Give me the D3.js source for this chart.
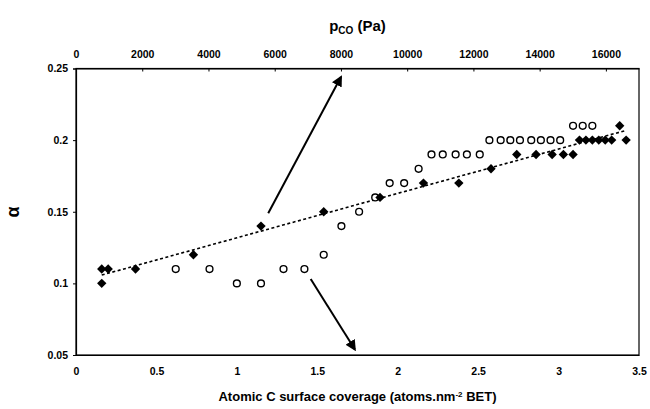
<!DOCTYPE html>
<html>
<head>
<meta charset="utf-8">
<script src="https://cdn.jsdelivr.net/npm/d3@7"></script>
<style>
  body { margin: 0; background: #fff; }
  svg text { font-family: "Liberation Sans", Arial, sans-serif; font-weight: bold; fill: #000; }
</style>
</head>
<body>
<div id="vis"></div>
<script>
// filled diamonds (coverage, alpha)
var diamondCov   = [0.16, 0.16, 0.20, 0.37, 0.73, 1.15, 1.54, 1.89, 2.16, 2.38, 2.58, 2.74, 2.86, 2.96, 3.03, 3.09, 3.13, 3.17, 3.21, 3.25, 3.29, 3.33, 3.38, 3.42];
var diamondAlpha = [0.10, 0.11, 0.11, 0.11, 0.12, 0.14, 0.15, 0.16, 0.17, 0.17, 0.18, 0.19, 0.19, 0.19, 0.19, 0.19, 0.20, 0.20, 0.20, 0.20, 0.20, 0.20, 0.21, 0.20];

// open circles (plotted against the same coverage axis)
var circleCov   = [0.62, 0.83, 1.00, 1.15, 1.29, 1.42, 1.54, 1.65, 1.76, 1.86, 1.95, 2.04, 2.13, 2.21, 2.28, 2.36, 2.43, 2.51, 2.57, 2.64, 2.70, 2.76, 2.83, 2.89, 2.95, 3.01, 3.09, 3.15, 3.21];
var circleAlpha = [0.11, 0.11, 0.10, 0.10, 0.11, 0.11, 0.12, 0.14, 0.15, 0.16, 0.17, 0.17, 0.18, 0.19, 0.19, 0.19, 0.19, 0.19, 0.20, 0.20, 0.20, 0.20, 0.20, 0.20, 0.20, 0.20, 0.21, 0.21, 0.21];

// linear trend of the diamonds
var trendCov   = [0.16, 3.41];
var trendAlpha = [0.1058, 0.2065];

// arrows: [x1, y1, x2, y2] in data units
var arrowUp   = [1.195, 0.149, 1.647, 0.244];
var arrowDown = [1.459, 0.103, 1.733, 0.054];

var bottomTicks = [0, 0.5, 1, 1.5, 2, 2.5, 3, 3.5];
var leftTicks   = [0.05, 0.1, 0.15, 0.2, 0.25];
var topTicks    = [0, 2000, 4000, 6000, 8000, 10000, 12000, 14000, 16000];

var W = 650, H = 409;
var margin = {top: 68.5, right: 11, bottom: 54, left: 76};
var width = W - margin.left - margin.right,
    height = H - margin.top - margin.bottom;

var svg = d3.select("#vis").append("svg")
  .attr("width", W)
  .attr("height", H);

var g = svg.append("g")
  .attr("transform", "translate(" + margin.left + "," + margin.top + ")");

var x = d3.scaleLinear().domain([0, 3.5]).range([0, width]);
var xTop = d3.scaleLinear().domain([0, 17000]).range([0, width]);
var y = d3.scaleLinear().domain([0.05, 0.25]).range([height, 0]);

// frame
g.append("rect")
  .attr("width", width)
  .attr("height", height)
  .attr("fill", "none")
  .attr("stroke", "#000")
  .attr("stroke-width", 1.2);

// axes
var yAxis = d3.axisLeft(y).tickValues(leftTicks).tickSize(3).tickPadding(5)
  .tickFormat(function(d){ return String(+d.toFixed(2)); });
var yg = g.append("g").call(yAxis);

var xAxis = d3.axisBottom(x).tickValues(bottomTicks).tickSize(0).tickPadding(13)
  .tickFormat(function(d){ return String(d); });
var xg = g.append("g").attr("transform", "translate(0," + height + ")").call(xAxis);

var topAxis = d3.axisTop(xTop).tickValues(topTicks).tickSizeInner(-3).tickSizeOuter(0).tickPadding(11)
  .tickFormat(function(d){ return String(d); });
var tg = g.append("g").call(topAxis);

[yg, xg, tg].forEach(function(a){
  a.select(".domain").attr("stroke", "#000").attr("stroke-width", 1.2);
  a.selectAll(".tick line").attr("stroke", "#000");
  a.selectAll(".tick text").style("font-size", "10.5px").attr("font-family", null);
});
tg.selectAll(".tick").filter(function(d){ return d === 0; }).select("line").remove();

// trendline
g.append("line")
  .attr("x1", x(trendCov[0])).attr("y1", y(trendAlpha[0]))
  .attr("x2", x(trendCov[1])).attr("y2", y(trendAlpha[1]))
  .attr("stroke", "#000")
  .attr("stroke-width", 1.6)
  .attr("stroke-dasharray", "3,2.5");

// open circles
g.append("g").selectAll("circle")
  .data(circleCov)
  .join("circle")
    .attr("cx", function(d){ return x(d); })
    .attr("cy", function(d, i){ return y(circleAlpha[i]); })
    .attr("r", 3.4)
    .attr("fill", "#fff")
    .attr("stroke", "#000")
    .attr("stroke-width", 1.4);

// diamonds
var diamond = d3.symbol().type(d3.symbolSquare).size(44);
g.append("g").selectAll("path")
  .data(diamondCov)
  .join("path")
    .attr("d", diamond)
    .attr("transform", function(d, i){
      return "translate(" + x(d) + "," + y(diamondAlpha[i]) + ") rotate(45)";
    })
    .attr("fill", "#000");

// arrows
var defs = svg.append("defs");
defs.append("marker")
  .attr("id", "head")
  .attr("viewBox", "0 0 10 10")
  .attr("refX", 8).attr("refY", 5)
  .attr("markerWidth", 5.5).attr("markerHeight", 5.5)
  .attr("markerUnits", "strokeWidth")
  .attr("orient", "auto")
  .append("path")
    .attr("d", "M0,0 L10,5 L0,10 Z")
    .attr("fill", "#000");

[arrowUp, arrowDown].forEach(function(a){
  g.append("line")
    .attr("x1", x(a[0])).attr("y1", y(a[1]))
    .attr("x2", x(a[2])).attr("y2", y(a[3]))
    .attr("stroke", "#000")
    .attr("stroke-width", 2)
    .attr("marker-end", "url(#head)");
});

// titles
var bt = svg.append("text")
  .attr("x", margin.left + width / 2)
  .attr("y", 401)
  .attr("text-anchor", "middle")
  .style("font-size", "13px");
bt.append("tspan").text("Atomic C surface coverage (atoms.nm");
bt.append("tspan").attr("dy", -4).style("font-size", "8px").text("-2");
bt.append("tspan").attr("dy", 4).text(" BET)");

var tt = svg.append("text")
  .attr("x", margin.left + width / 2)
  .attr("y", 31)
  .attr("text-anchor", "middle")
  .style("font-size", "15px");
tt.append("tspan").text("p");
tt.append("tspan").attr("dy", 3).style("font-size", "10px").text("CO");
tt.append("tspan").attr("dy", -3).text(" (Pa)");

svg.append("text")
  .attr("transform", "translate(19,212) rotate(-90)")
  .attr("text-anchor", "middle")
  .style("font-size", "18px")
  .text("α");
</script>
</body>
</html>
